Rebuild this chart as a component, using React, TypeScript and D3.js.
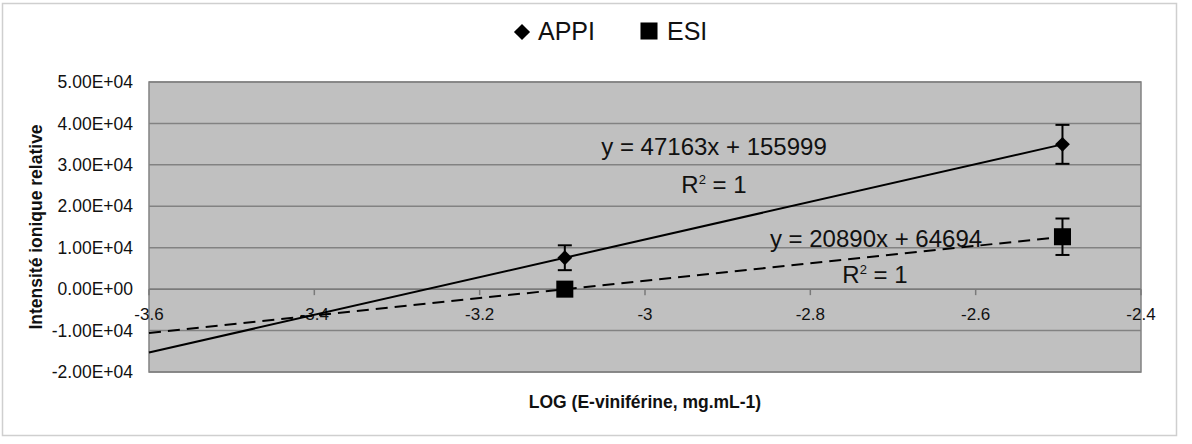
import React from 'react';
import * as d3 from 'd3';

// concentrations read as log10 (0.0008 and 0.0032 mg/mL)
const logConc = [-3.097, -2.495];
const appiValues = [7580, 34950];
const appiErrors = [3000, 4700];
const esiValues = [0, 12650];
const esiErrors = [800, 4400];
const xTicks = [-3.6, -3.4, -3.2, -3, -2.8, -2.6, -2.4];
const yTicks = [-20000, -10000, 0, 10000, 20000, 30000, 40000, 50000];
const trendStart = -3.6;

const appiEquation = 'y = 47163x + 155999';
const esiEquation = 'y = 20890x + 64694';

const W = 1192;
const H = 444;
const plot = { left: 149, right: 1141, top: 82, bottom: 372 };
const font = '"Liberation Sans", Arial, Helvetica, sans-serif';

// least squares fit of y on x
function fit(xs: number[], ys: number[]) {
  const mx = d3.mean(xs) as number;
  const my = d3.mean(ys) as number;
  const num = d3.sum(xs, (x, i) => (x - mx) * (ys[i] - my));
  const den = d3.sum(xs, (x) => (x - mx) ** 2);
  const slope = num / den;
  return { slope, intercept: my - slope * mx };
}

function formatY(v: number) {
  // Excel style 0.00E+00
  const s = v.toExponential(2).toUpperCase();
  const [m, e] = s.split('E');
  const sign = e[0] === '-' ? '-' : '+';
  const digits = e.replace(/[+-]/, '').padStart(2, '0');
  return `${m}E${sign}${digits}`;
}

export default function App() {
  const x = d3.scaleLinear().domain([-3.6, -2.4]).range([plot.left, plot.right]);
  const y = d3.scaleLinear().domain([-20000, 50000]).range([plot.bottom, plot.top]);

  const line = d3
    .line<[number, number]>()
    .x((d) => x(d[0]))
    .y((d) => y(d[1]));

  const trend = (ys: number[]) => {
    const f = fit(logConc, ys);
    const end = logConc[logConc.length - 1];
    return line([
      [trendStart, f.slope * trendStart + f.intercept],
      [end, f.slope * end + f.intercept],
    ]) as string;
  };

  const diamond = d3.symbol(d3.symbolSquare, 110)() as string;
  const square = d3.symbol(d3.symbolSquare, 290)() as string;
  const legendDiamond = d3.symbol(d3.symbolSquare, 130)() as string;

  const errorBars = (vals: number[], errs: number[]) =>
    logConc.map((c, i) => {
      const cx = x(c);
      const y1 = y(vals[i] + errs[i]);
      const y2 = y(vals[i] - errs[i]);
      return (
        <g key={i} stroke="#000" strokeWidth={2}>
          <line x1={cx} x2={cx} y1={y1} y2={y2} />
          <line x1={cx - 7} x2={cx + 7} y1={y1} y2={y1} />
          <line x1={cx - 7} x2={cx + 7} y1={y2} y2={y2} />
        </g>
      );
    });

  return (
    <svg
      width={W}
      height={H}
      style={{ position: 'absolute', left: 0, top: 0, background: '#fff' }}
      fontFamily={font}
    >
      <rect x={2.5} y={3.5} width={1174} height={432} fill="#fff" stroke="#cfcfcf" strokeWidth={1.5} />

      {/* legend */}
      <g fill="#111">
        <path d={legendDiamond} transform="translate(522,32) rotate(45)" fill="#000" />
        <text x={538} y={40} fontSize={25}>APPI</text>
        <path d={square} transform="translate(649,31)" fill="#000" />
        <text x={667} y={40} fontSize={25}>ESI</text>
      </g>

      {/* plot area */}
      <rect
        x={plot.left}
        y={plot.top}
        width={plot.right - plot.left}
        height={plot.bottom - plot.top}
        fill="#c0c0c0"
      />
      {yTicks.map((t) => (
        <line
          key={t}
          x1={plot.left}
          x2={plot.right}
          y1={y(t)}
          y2={y(t)}
          stroke="#828282"
          strokeWidth={1.5}
        />
      ))}
      <rect
        x={plot.left}
        y={plot.top}
        width={plot.right - plot.left}
        height={plot.bottom - plot.top}
        fill="none"
        stroke="#828282"
        strokeWidth={1.5}
      />

      {/* x axis on y = 0 */}
      <line x1={plot.left} x2={plot.right} y1={y(0)} y2={y(0)} stroke="#7a7a7a" strokeWidth={1.5} />
      {xTicks.map((t) => (
        <g key={t}>
          <line x1={x(t)} x2={x(t)} y1={y(0)} y2={y(0) + 6} stroke="#7a7a7a" strokeWidth={1.5} />
          <text x={x(t)} y={y(0) + 31} fontSize={17} textAnchor="middle" fill="#111">
            {t}
          </text>
        </g>
      ))}

      {/* y tick labels */}
      {yTicks.map((t) => (
        <text
          key={t}
          x={plot.left - 16}
          y={y(t)}
          dy="0.35em"
          fontSize={17.5}
          textAnchor="end"
          fill="#111"
        >
          {formatY(t)}
        </text>
      ))}

      {/* trend lines */}
      <path d={trend(appiValues)} fill="none" stroke="#000" strokeWidth={2} />
      <path d={trend(esiValues)} fill="none" stroke="#000" strokeWidth={2} strokeDasharray="12,7" />

      {/* error bars and markers */}
      {errorBars(appiValues, appiErrors)}
      {errorBars(esiValues, esiErrors)}
      {logConc.map((c, i) => (
        <path
          key={`a${i}`}
          d={diamond}
          transform={`translate(${x(c)},${y(appiValues[i])}) rotate(45)`}
          fill="#000"
        />
      ))}
      {logConc.map((c, i) => (
        <path key={`e${i}`} d={square} transform={`translate(${x(c)},${y(esiValues[i])})`} fill="#000" />
      ))}

      {/* equations */}
      <g fill="#111" fontSize={24} textAnchor="middle">
        <text x={714} y={155}>{appiEquation}</text>
        <text x={714} y={193}>
          R<tspan dy={-9} fontSize={13}>2</tspan>
          <tspan dy={9}> = 1</tspan>
        </text>
        <text x={876} y={247}>{esiEquation}</text>
        <text x={875} y={283}>
          R<tspan dy={-9} fontSize={13}>2</tspan>
          <tspan dy={9}> = 1</tspan>
        </text>
      </g>

      {/* axis titles */}
      <text
        x={(plot.left + plot.right) / 2}
        y={408}
        fontSize={17.5}
        fontWeight="bold"
        textAnchor="middle"
        fill="#111"
      >
        LOG (E-viniférine, mg.mL-1)
      </text>
      <text
        transform={`translate(42,${(plot.top + plot.bottom) / 2}) rotate(-90)`}
        fontSize={17.5}
        fontWeight="bold"
        textAnchor="middle"
        fill="#111"
      >
        Intensité ionique relative
      </text>
    </svg>
  );
}
